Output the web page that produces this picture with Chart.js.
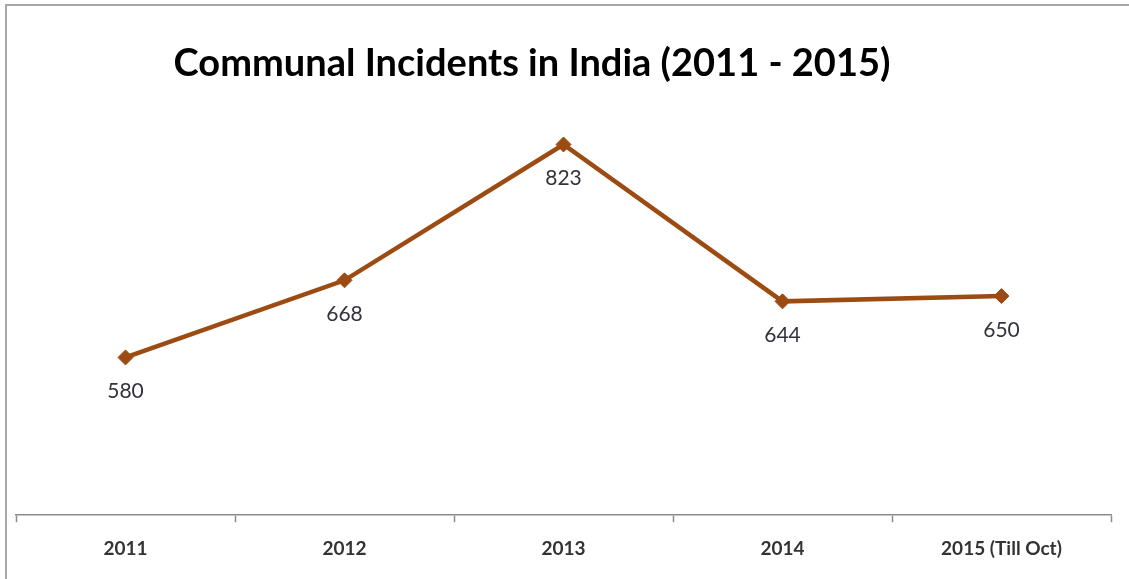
<!DOCTYPE html>
<html>
<head>
<meta charset="utf-8">
<script src="https://cdn.jsdelivr.net/npm/chart.js@4"></script>
<style>
  html, body { margin: 0; padding: 0; background: #ffffff; }
  #wrap { position: relative; width: 1129px; height: 579px; }
  #frame { position: absolute; left: 5px; top: 4px; right: -10px; bottom: -10px;
           border-left: 2px solid #a8a8a8; border-top: 2px solid #a8a8a8; pointer-events: none; }
  canvas { position: absolute; left: 0; top: 0; }
</style>
</head>
<body>
<div id="wrap">
  <canvas id="c" width="1129" height="579"></canvas>
  <div id="frame"></div>
</div>
<script>
const chartTitle = "Communal Incidents in India (2011 - 2015)";
const categories = ["2011", "2012", "2013", "2014", "2015 (Till Oct)"];
const incidents = [580, 668, 823, 644, 650];
const yMin = 400, yMax = 900;

const FONT = "Lato, 'Open Sans', sans-serif";
const lineColor = "#9c4c12";

const titlePlugin = {
  id: 'customTitle',
  afterDraw(chart) {
    const ctx = chart.ctx;
    ctx.save();
    ctx.font = "bold 38px " + FONT;
    ctx.fillStyle = "#000000";
    ctx.textAlign = "center";
    ctx.textBaseline = "middle";
    ctx.fillText(chartTitle, 532, 64);
    ctx.restore();
  }
};

const valueLabels = {
  id: 'valueLabels',
  afterDatasetsDraw(chart) {
    const ctx = chart.ctx;
    const meta = chart.getDatasetMeta(0);
    ctx.save();
    ctx.font = "21px " + FONT;
    ctx.fillStyle = "#33333d";
    ctx.textAlign = "center";
    ctx.textBaseline = "middle";
    meta.data.forEach((pt, i) => {
      ctx.fillText(String(chart.data.datasets[0].data[i]), pt.x, pt.y + 34);
    });
    ctx.restore();
  }
};

new Chart(document.getElementById('c'), {
  type: 'line',
  data: {
    labels: categories,
    datasets: [{
      data: incidents,
      borderColor: lineColor,
      backgroundColor: lineColor,
      borderWidth: 4.5,
      pointStyle: 'rectRot',
      pointRadius: 7.5,
      pointHoverRadius: 7.5,
      pointBackgroundColor: lineColor,
      pointBorderColor: lineColor,
      pointBorderWidth: 1,
      tension: 0,
      fill: false
    }]
  },
  options: {
    responsive: false,
    animation: false,
    devicePixelRatio: 1,
    layout: { padding: { left: 16, right: 18, top: 77, bottom: 4 } },
    plugins: {
      legend: { display: false },
      title: { display: false },
      tooltip: { enabled: false }
    },
    scales: {
      x: {
        offset: true,
        grid: {
          offset: true,
          drawOnChartArea: false,
          drawTicks: true,
          tickLength: 7,
          tickColor: "#8c8c8c",
          tickWidth: 1.5
        },
        border: { display: true, color: "#8c8c8c", width: 1.5 },
        ticks: {
          color: "#333333",
          font: { family: FONT, size: 19, weight: 'bold' },
          padding: 15,
          maxRotation: 0
        }
      },
      y: {
        display: false,
        min: yMin,
        max: yMax
      }
    }
  },
  plugins: [titlePlugin, valueLabels]
});
</script>
</body>
</html>
